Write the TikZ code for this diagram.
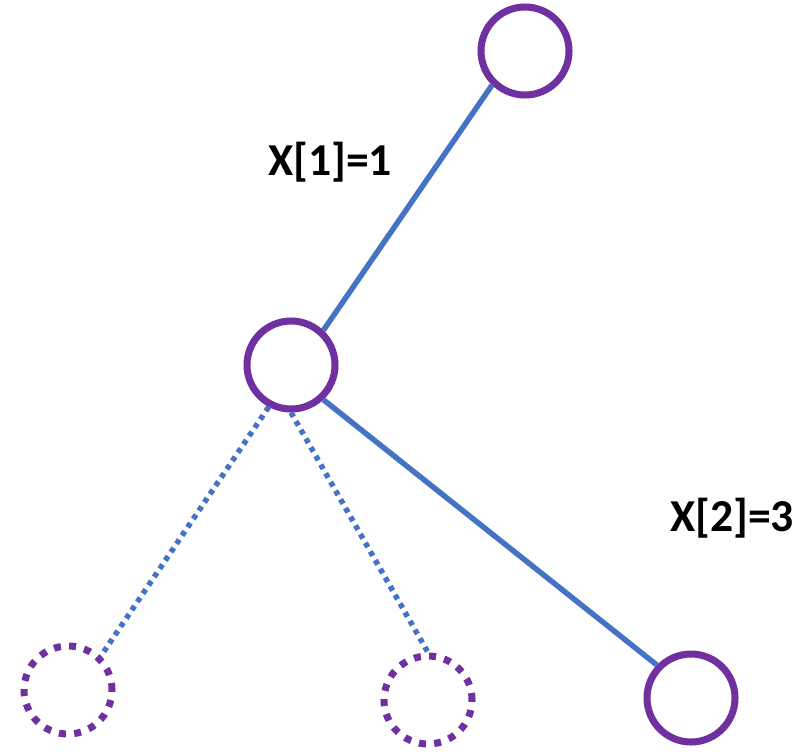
\documentclass[tikz,border=0pt]{standalone}
\usepackage{fontspec}
\setmainfont{Carlito}
\usepackage{tikz}
\usetikzlibrary{calc}

\definecolor{nodepurple}{HTML}{7030A0}
\definecolor{edgeblue}{HTML}{4472C4}

\tikzset{
  state/.style={circle, draw=nodepurple, line width=4pt, minimum size=1.76cm, inner sep=0pt},
  ghost/.style={state, dash pattern=on 0.14cm off 0.165cm},
  taken/.style={draw=edgeblue, line width=3.1pt},
  untaken/.style={draw=edgeblue, line width=3.1pt, dash pattern=on 0.1cm off 0.1cm},
  choice/.style={font=\bfseries\fontsize{26}{31}\selectfont}
}

\begin{document}
\begin{tikzpicture}
  \useasboundingbox (0,0) rectangle (16.08,-15.04);
  \node[state] (root) at (10.5,-1.02) {};
  \node[state] (mid) at (5.82,-7.3) {};
  \node[ghost] (leftleaf) at (1.36,-13.8) {};
  \node[ghost] (midleaf) at (8.56,-14.0) {};
  \node[state] (rightleaf) at (13.82,-13.96) {};
  \draw[taken] (root.226) -- (mid.47);
  \draw[taken] (mid.313) -- (rightleaf.136);
  \draw[untaken] (mid.242) -- (leftleaf.46);
  \draw[untaken] (mid.south) -- (midleaf.north);
  \node[choice] (x1) at (6.6,-3.24) {X[1]=1};
  \node[choice] (x2) at (14.64,-10.36) {X[2]=3};
\end{tikzpicture}
\end{document}
